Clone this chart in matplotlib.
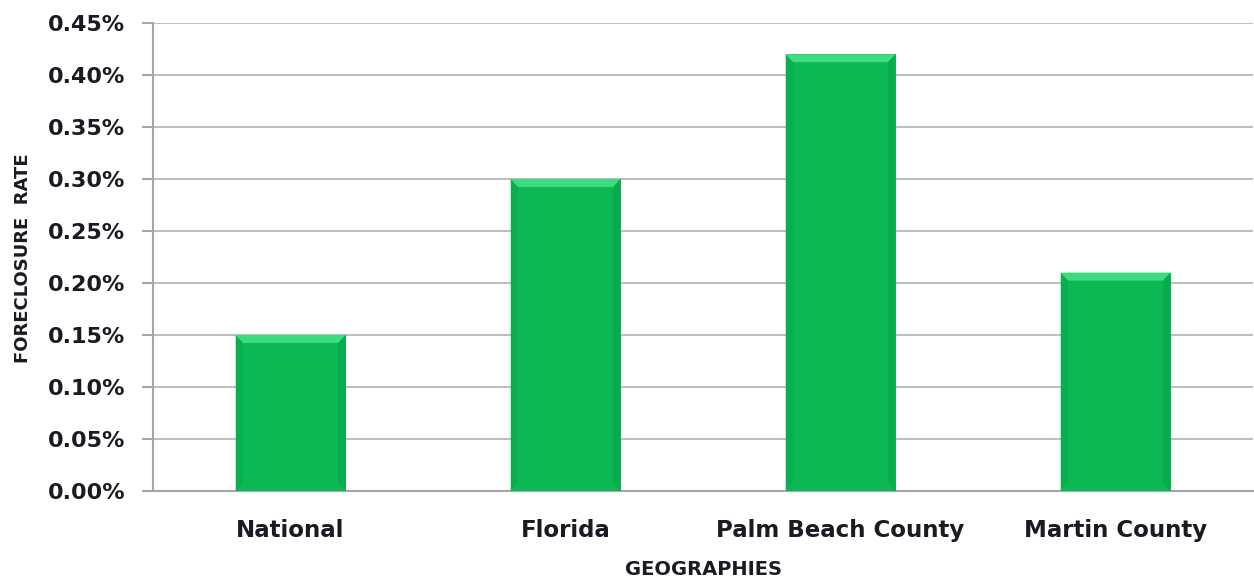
import matplotlib
matplotlib.use("Agg")
import matplotlib.pyplot as plt
from matplotlib.patches import Polygon
from matplotlib.ticker import FuncFormatter, MultipleLocator

categories = ["National", "Florida", "Palm Beach County", "Martin County"]
rates = [0.15, 0.30, 0.42, 0.21]  # percent
y_max = 0.45

bar_color = "#0BB853"
bevel_top = "#3DDC80"
bevel_side = "#09A84B"
grid_color = "#BFBFBF"
text_color = "#1A1A22"

plt.rcParams["font.family"] = ["DejaVu Sans"]
plt.rcParams["font.weight"] = "bold"

fig = plt.figure(figsize=(12.54, 5.83), dpi=100)
ax = fig.add_axes([153 / 1254, 1 - 491 / 583, 1100 / 1254, 468 / 583])

width = 0.4
x = list(range(len(categories)))
bars = ax.bar(x, rates, width=width, color=bar_color, edgecolor="none", zorder=3)

# Bevel: lighter top face and slightly darker sides, sized in pixels
fig.canvas.draw()
px_x = (ax.get_xlim()[1] - ax.get_xlim()[0]) / (ax.bbox.width)
px_y = y_max / ax.bbox.height
bx = 8 * px_x
by = 8 * px_y
for xi, v in zip(x, rates):
    l, r = xi - width / 2, xi + width / 2
    ax.add_patch(Polygon([(l, v), (r, v), (r - bx, v - by), (l + bx, v - by)],
                         closed=True, color=bevel_top, lw=0, zorder=4))
    ax.add_patch(Polygon([(l, v), (l + bx, v - by), (l + bx, by), (l, 0)],
                         closed=True, color=bevel_side, lw=0, zorder=4, alpha=0.5))
    ax.add_patch(Polygon([(r, v), (r - bx, v - by), (r - bx, by), (r, 0)],
                         closed=True, color=bevel_side, lw=0, zorder=4, alpha=0.7))

ax.set_xlim(-0.5, len(categories) - 0.5)
ax.set_ylim(0, y_max)
ax.yaxis.set_major_locator(MultipleLocator(0.05))
ax.yaxis.set_major_formatter(FuncFormatter(lambda v, p: f"{v:.2f}%"))
ax.yaxis.grid(True, color=grid_color, lw=1.5, zorder=0)
ax.set_axisbelow(True)

ax.set_xticks(x)
ax.set_xticklabels(categories, fontsize=16.5, fontweight="bold", color=text_color)
ax.tick_params(axis="x", length=0, pad=20)
ax.tick_params(axis="y", length=8, width=1.5, color="#A6A6A6", labelsize=16,
               labelcolor=text_color, pad=12)
for lab in ax.get_yticklabels():
    lab.set_fontweight("bold")

for side in ["top", "right"]:
    ax.spines[side].set_visible(False)
for side in ["left", "bottom"]:
    ax.spines[side].set_color("#A6A6A6")
    ax.spines[side].set_linewidth(1.5)

ax.set_xlabel("GEOGRAPHIES", fontsize=14, fontweight="bold", color=text_color, labelpad=13)
ax.set_ylabel("FORECLOSURE  RATE", fontsize=13, fontweight="bold", color=text_color)
ax.yaxis.set_label_coords((32 - 153) / 1100, (491 - 258) / 468)

fig.savefig("out.png", dpi=100)
